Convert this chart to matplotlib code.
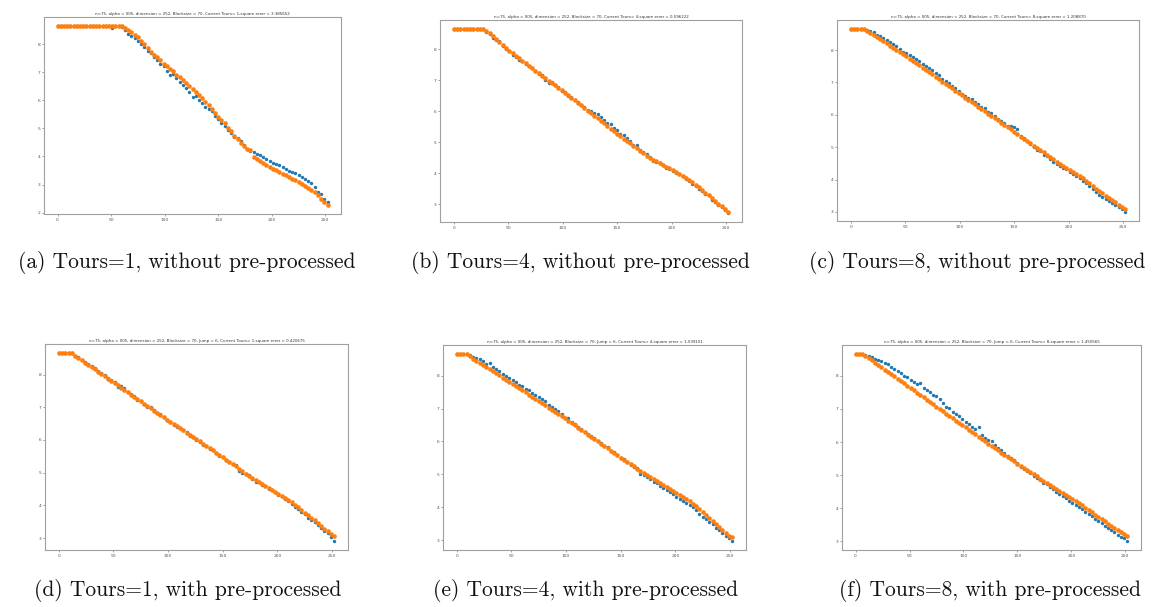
import numpy as np
import matplotlib
matplotlib.use("Agg")
import matplotlib.pyplot as plt

# ---------------- data (every 3rd index) ----------------
a_orange = [8.65]*21 + [8.58, 8.50, 8.42, 8.33, 8.24, 8.12, 8.02, 7.86, 7.72, 7.62, 7.55, 7.43, 7.30, 7.24,
            7.12, 7.03, 6.92, 6.82, 6.73, 6.60, 6.50, 6.40, 6.30, 6.18, 6.08, 5.95, 5.82, 5.70, 5.56, 5.42,
            5.30, 5.18, 5.02, 4.90, 4.74, 4.62, 4.48, 4.38, 4.28, 4.22, 3.97, 3.90, 3.84, 3.77, 3.71, 3.64,
            3.57, 3.51, 3.45, 3.39, 3.33, 3.27, 3.21, 3.15, 3.09, 3.03, 2.96, 2.88, 2.80, 2.72, 2.62, 2.50,
            2.38, 2.27]
a_blue = [8.65]*17 + [8.58, 8.65, 8.65, 8.63] + [8.50, 8.38, 8.30, 8.22, 8.12, 8.00, 7.90, 7.76, 7.70, 7.55,
          7.45, 7.30, 7.22, 7.05, 6.92, 6.95, 6.78, 6.65, 6.55, 6.45, 6.28, 6.12, 6.15, 6.02, 5.90, 5.75,
          5.70, 5.62, 5.45, 5.35, 5.20, 5.08, 4.95, 4.85, 4.70, 4.65, 4.55, 4.40, 4.25, 4.20, 4.15, 4.10,
          4.05, 3.98, 3.92, 3.85, 3.78, 3.75, 3.68, 3.62, 3.57, 3.50, 3.45, 3.40, 3.33, 3.28, 3.20, 3.12,
          3.05, 2.92, 2.75, 2.68, 2.48, 2.38]

b_orange = [8.65]*10 + [8.60, 8.52, 8.43, 8.34, 8.25, 8.15, 8.05, 7.95, 7.87, 7.79, 7.71, 7.63, 7.55, 7.47,
            7.39, 7.31, 7.23, 7.15, 7.07, 6.99, 6.92, 6.84, 6.76, 6.68, 6.60, 6.52, 6.44, 6.35, 6.27, 6.19,
            6.11, 6.02, 5.94, 5.86, 5.77, 5.69, 5.61, 5.52, 5.44, 5.36, 5.27, 5.19, 5.11, 5.03, 4.96, 4.88,
            4.80, 4.73, 4.65, 4.57, 4.50, 4.43, 4.38, 4.33, 4.27, 4.21, 4.16, 4.10, 4.04, 3.98, 3.92, 3.86,
            3.78, 3.70, 3.62, 3.54, 3.46, 3.37, 3.29, 3.20, 3.11, 3.02, 2.93, 2.84, 2.75]
b_blue = [8.65]*10 + [8.55, 8.50, 8.38, 8.30, 8.28, 8.12, 8.02, 7.96, 7.82, 7.76, 7.65, 7.62, 7.52, 7.45,
          7.40, 7.30, 7.20, 7.16, 7.02, 6.90, 6.95, 6.85, 6.78, 6.66, 6.62, 6.50, 6.46, 6.36, 6.30, 6.20,
          6.14, 6.05, 6.02, 5.95, 5.90, 5.80, 5.72, 5.62, 5.60, 5.45, 5.38, 5.28, 5.22, 5.12, 5.05, 4.92,
          4.90, 4.76, 4.70, 4.62, 4.52, 4.40, 4.36, 4.34, 4.25, 4.18, 4.12, 4.06, 4.02, 3.96, 3.90, 3.82,
          3.75, 3.66, 3.58, 3.50, 3.43, 3.32, 3.28, 3.15, 3.08, 2.98, 2.92, 2.80, 2.72]

c_orange = [8.65]*5 + [8.60, 8.53, 8.47, 8.40, 8.34, 8.27, 8.21, 8.14, 8.08, 8.01, 7.95, 7.88, 7.81, 7.74,
            7.67, 7.60, 7.53, 7.46, 7.39, 7.32, 7.25, 7.18, 7.10, 7.03, 6.96, 6.89, 6.82, 6.74, 6.67, 6.60,
            6.53, 6.46, 6.39, 6.32, 6.25, 6.18, 6.11, 6.04, 5.97, 5.90, 5.83, 5.76, 5.69, 5.62, 5.55, 5.48,
            5.41, 5.33, 5.26, 5.19, 5.12, 5.05, 4.98, 4.91, 4.84, 4.76, 4.69, 4.62, 4.55, 4.48, 4.42, 4.36,
            4.30, 4.24, 4.18, 4.11, 4.04, 3.96, 3.88, 3.80, 3.72, 3.64, 3.57, 3.50, 3.43, 3.36, 3.29, 3.22,
            3.15, 3.08]
c_blue = [8.65]*5 + [8.63, 8.58, 8.55, 8.48, 8.45, 8.38, 8.30, 8.25, 8.20, 8.12, 8.05, 7.95, 7.92, 7.85,
          7.80, 7.72, 7.65, 7.58, 7.50, 7.45, 7.38, 7.30, 7.22, 7.12, 7.05, 6.98, 6.90, 6.82, 6.75, 6.65,
          6.58, 6.52, 6.48, 6.40, 6.32, 6.25, 6.20, 6.10, 6.05, 5.95, 5.88, 5.82, 5.74, 5.66, 5.64, 5.62,
          5.55, 5.36, 5.28, 5.18, 5.10, 5.00, 4.92, 4.88, 4.76, 4.72, 4.62, 4.55, 4.48, 4.42, 4.35, 4.32,
          4.24, 4.18, 4.10, 4.05, 3.96, 3.88, 3.80, 3.70, 3.62, 3.52, 3.45, 3.40, 3.33, 3.28, 3.22, 3.15,
          3.10, 3.00]

d_orange = [8.65]*5 + [8.58, 8.51, 8.44, 8.37, 8.30, 8.23, 8.16, 8.09, 8.02, 7.95, 7.88, 7.81, 7.74, 7.67,
            7.60, 7.53, 7.46, 7.39, 7.32, 7.25, 7.18, 7.11, 7.04, 6.97, 6.90, 6.83, 6.76, 6.69, 6.62, 6.56,
            6.49, 6.42, 6.36, 6.29, 6.22, 6.16, 6.09, 6.02, 5.96, 5.89, 5.82, 5.75, 5.68, 5.61, 5.54, 5.47,
            5.40, 5.33, 5.26, 5.19, 5.12, 5.05, 4.97, 4.90, 4.83, 4.76, 4.71, 4.65, 4.59, 4.53, 4.47, 4.41,
            4.35, 4.29, 4.23, 4.17, 4.10, 4.02, 3.94, 3.86, 3.78, 3.70, 3.62, 3.54, 3.46, 3.38, 3.29, 3.21,
            3.13, 3.06]
d_blue = [8.65]*5 + [8.56, 8.55, 8.46, 8.38, 8.32, 8.25, 8.20, 8.10, 8.04, 7.98, 7.90, 7.84, 7.76, 7.62,
          7.64, 7.58, 7.48, 7.42, 7.35, 7.22, 7.20, 7.10, 7.02, 7.00, 6.92, 6.82, 6.78, 6.70, 6.60, 6.55,
          6.45, 6.40, 6.38, 6.30, 6.25, 6.12, 6.08, 6.00, 5.95, 5.85, 5.82, 5.72, 5.68, 5.60, 5.52, 5.48,
          5.38, 5.32, 5.25, 5.22, 5.05, 4.98, 4.95, 4.92, 4.80, 4.72, 4.70, 4.62, 4.58, 4.50, 4.46, 4.40,
          4.32, 4.28, 4.20, 4.12, 4.04, 3.95, 3.90, 3.80, 3.72, 3.62, 3.56, 3.48, 3.40, 3.32, 3.22, 3.15,
          3.02, 2.92]

e_orange = [8.65]*4 + [8.59, 8.52, 8.46, 8.39, 8.33, 8.26, 8.20, 8.14, 8.07, 8.01, 7.94, 7.88, 7.81, 7.75,
            7.68, 7.62, 7.55, 7.49, 7.42, 7.36, 7.29, 7.23, 7.16, 7.10, 7.03, 6.97, 6.90, 6.84, 6.77, 6.70,
            6.63, 6.56, 6.49, 6.42, 6.35, 6.28, 6.21, 6.14, 6.07, 6.00, 5.93, 5.86, 5.79, 5.72, 5.65, 5.58,
            5.51, 5.44, 5.37, 5.30, 5.24, 5.17, 5.11, 5.04, 4.98, 4.91, 4.85, 4.79, 4.72, 4.66, 4.60, 4.54,
            4.48, 4.42, 4.36, 4.30, 4.25, 4.19, 4.11, 4.02, 3.93, 3.84, 3.75, 3.66, 3.57, 3.48, 3.39, 3.30,
            3.21, 3.13, 3.08]
e_blue = [8.65]*4 + [8.62, 8.58, 8.55, 8.50, 8.45, 8.36, 8.38, 8.26, 8.20, 8.15, 8.05, 8.00, 7.93, 7.86,
          7.82, 7.72, 7.68, 7.60, 7.55, 7.46, 7.42, 7.35, 7.28, 7.22, 7.12, 7.05, 6.98, 6.92, 6.82, 6.70,
          6.72, 6.60, 6.52, 6.45, 6.38, 6.30, 6.24, 6.16, 6.10, 6.02, 5.95, 5.86, 5.82, 5.72, 5.68, 5.58,
          5.50, 5.45, 5.38, 5.28, 5.22, 5.18, 5.02, 4.98, 4.92, 4.85, 4.78, 4.72, 4.65, 4.58, 4.52, 4.45,
          4.40, 4.32, 4.26, 4.20, 4.14, 4.08, 4.00, 3.92, 3.80, 3.70, 3.65, 3.55, 3.48, 3.38, 3.30, 3.22,
          3.12, 3.06, 2.98]

f_orange = [8.65]*3 + [8.61, 8.54, 8.47, 8.40, 8.33, 8.26, 8.19, 8.12, 8.05, 7.98, 7.91, 7.84, 7.77, 7.70,
            7.63, 7.56, 7.49, 7.42, 7.35, 7.28, 7.21, 7.14, 7.07, 7.00, 6.93, 6.86, 6.79, 6.72, 6.65, 6.58,
            6.51, 6.44, 6.37, 6.30, 6.23, 6.16, 6.09, 6.02, 5.95, 5.89, 5.82, 5.75, 5.68, 5.62, 5.55, 5.48,
            5.42, 5.35, 5.28, 5.22, 5.15, 5.09, 5.02, 4.96, 4.89, 4.83, 4.76, 4.70, 4.64, 4.58, 4.51, 4.45,
            4.39, 4.33, 4.27, 4.21, 4.15, 4.09, 4.02, 3.95, 3.88, 3.81, 3.74, 3.67, 3.60, 3.53, 3.46, 3.39,
            3.33, 3.27, 3.22, 3.17]
f_blue = [8.65]*3 + [8.63, 8.60, 8.56, 8.52, 8.48, 8.45, 8.38, 8.36, 8.28, 8.22, 8.15, 8.08, 7.98, 7.95,
          7.88, 7.80, 7.75, 7.78, 7.62, 7.58, 7.50, 7.42, 7.38, 7.30, 7.18, 7.05, 7.02, 6.92, 6.85, 6.78,
          6.70, 6.62, 6.55, 6.45, 6.40, 6.46, 6.22, 6.12, 6.05, 6.02, 5.90, 5.82, 5.75, 5.68, 5.58, 5.52,
          5.45, 5.36, 5.25, 5.20, 5.12, 5.05, 4.98, 4.92, 4.85, 4.76, 4.72, 4.64, 4.58, 4.50, 4.42, 4.36,
          4.30, 4.22, 4.16, 4.10, 4.05, 3.98, 3.90, 3.84, 3.76, 3.68, 3.62, 3.54, 3.45, 3.40, 3.35, 3.28,
          3.20, 3.14, 3.10, 3.02]

titles = [
    "n=75, alpha = 005, dimension = 252, Blocksize = 70, Current Tours= 1,square error = 3.385652",
    "n=75, alpha = 005, dimension = 252, Blocksize = 70, Current Tours= 4,square error = 0.596222",
    "n=75, alpha = 005, dimension = 252, Blocksize = 70, Current Tours= 8,square error = 1.208870",
    "n=75, alpha = 005, dimension = 252, Blocksize = 70, Jump = 6, Current Tours= 1,square error = 0.420675",
    "n=75, alpha = 005, dimension = 252, Blocksize = 70, Jump = 6, Current Tours= 4,square error = 1.039101",
    "n=75, alpha = 005, dimension = 252, Blocksize = 70, Jump = 6, Current Tours= 8,square error = 1.450565",
]
captions = [
    "(a) Tours=1, without pre-processed",
    "(b) Tours=4, without pre-processed",
    "(c) Tours=8, without pre-processed",
    "(d) Tours=1, with pre-processed",
    "(e) Tours=4, with pre-processed",
    "(f) Tours=8, with pre-processed",
]
x_max = 252

series = [(a_blue, a_orange), (b_blue, b_orange), (c_blue, c_orange),
          (d_blue, d_orange), (e_blue, e_orange), (f_blue, f_orange)]

# ---------------- layout ----------------
W, H = 1158, 607
fig = plt.figure(figsize=(W / 100, H / 100), dpi=100)

boxes_px = [  # left, top, right, bottom in pixels
    (44, 17, 341, 214),
    (440, 20, 742, 222),
    (837, 20, 1139, 221),
    (45, 344, 348, 550),
    (443, 345, 746, 550),
    (842, 345, 1141, 550),
]
cap_pos = [(187, 263), (580, 263), (977, 263), (188, 590), (586, 590), (990, 590)]

for k, ((blue, orange), (l, t, r, b)) in enumerate(zip(series, boxes_px)):
    ax = fig.add_axes([l / W, 1 - b / H, (r - l) / W, (b - t) / H])
    xb = np.linspace(0, x_max, len(blue))
    xo = np.linspace(0, x_max, len(orange))
    ax.scatter(xb, blue, s=6, color="#1f77b4", linewidths=0)
    ax.scatter(xo, orange, s=11, color="#ff7f0e", linewidths=0)
    ax.set_xticks([0, 50, 100, 150, 200, 250])
    ax.tick_params(labelsize=3.2, length=1.5, width=0.4, pad=1.2, colors="#555555")
    for sp in ax.spines.values():
        sp.set_color("#a0a0a0")
        sp.set_linewidth(0.8)
    ax.set_title(titles[k], fontsize=2.9, pad=1.5, color="#333333")
    cx, cy = cap_pos[k]
    fig.text(cx / W, 1 - cy / H, captions[k], family="cmr10", fontsize=15.5,
             ha="center", va="center", color="#111111")

fig.savefig("out.png", dpi=100)
